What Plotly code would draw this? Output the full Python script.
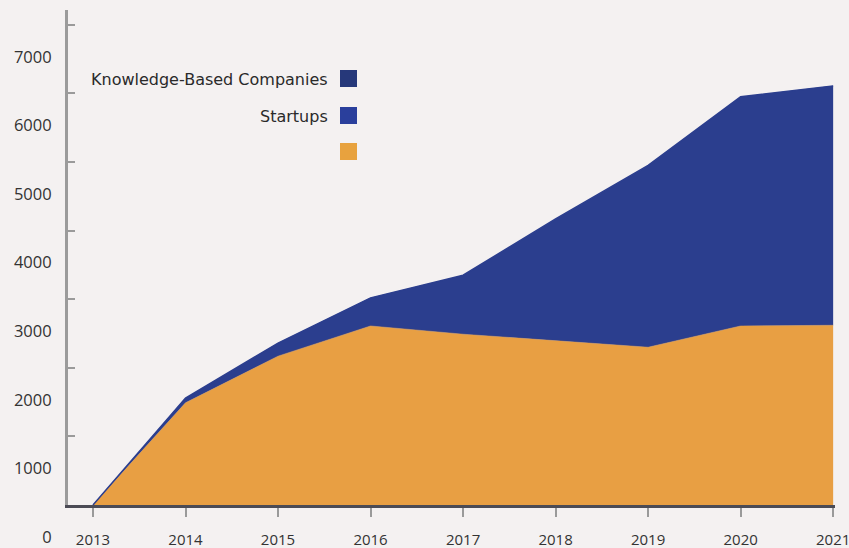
import plotly.graph_objects as go

years = [2013, 2014, 2015, 2016, 2017, 2018, 2019, 2020, 2021]
base_series = [0, 1490, 2170, 2610, 2490, 2400, 2300, 2610, 2620]
startups = [0, 70, 190, 410, 860, 1770, 2650, 3340, 3490]
y_ticks = [0, 1000, 2000, 3000, 4000, 5000, 6000, 7000]
legend_labels = ["Knowledge-Based Companies", "Startups", ""]
legend_colors = ["#26387A", "#2A3F9C", "#E8A23E"]

ORANGE = "#E89F43"
BLUE = "#2B3E8E"
BG = "#F4F1F1"
FONT = "Open Sans"
LEG_FONT = "DejaVu Sans"

fig = go.Figure()
fig.add_trace(go.Scatter(x=years, y=base_series, name="", stackgroup="one",
                         mode="lines", line=dict(color=ORANGE, width=0.5),
                         fillcolor=ORANGE, showlegend=False))
fig.add_trace(go.Scatter(x=years, y=startups, name="Startups", stackgroup="one",
                         mode="lines", line=dict(color=BLUE, width=1.5),
                         fillcolor=BLUE, showlegend=False))

# manual legend (text to the left of the swatch, as in the reference)
L, T, W, H = 68, 10, 767, 495
def px(x):
    return (x - L) / W
def py(y):
    return (T + H - y) / H

sq_tops = [70, 107, 143]
for lab, col, top in zip(legend_labels, legend_colors, sq_tops):
    fig.add_shape(type="rect", xref="paper", yref="paper",
                  x0=px(340), x1=px(357), y0=py(top + 17), y1=py(top),
                  fillcolor=col, line=dict(width=0), layer="above")
    if lab:
        fig.add_annotation(xref="paper", yref="paper", x=px(330), y=py(top + 9),
                           text=lab, showarrow=False, xanchor="right", yanchor="middle",
                           font=dict(family=LEG_FONT, size=16, color="#2a2a2a"))

fig.update_layout(
    width=849, height=548,
    margin=dict(l=L, r=849 - L - W, t=T, b=548 - T - H, autoexpand=False),
    paper_bgcolor=BG, plot_bgcolor=BG,
    font=dict(family=FONT, size=16, color="#333333"),
    showlegend=False,
)
fig.update_xaxes(range=[2012.73, 2021.02], tickvals=years, ticks="outside", ticklen=9,
                 tickwidth=2, tickcolor="#9a9a9a", showline=True, linewidth=2.5,
                 linecolor="#4b4b55", showgrid=False, zeroline=False, automargin=False,
                 tickfont=dict(family=FONT, size=15, color="#333333"),
                 ticklabelstandoff=10, ticklabeloverflow="allow")
fig.update_yaxes(range=[0, 7216], tickvals=y_ticks, ticks="inside", ticklen=7,
                 tickwidth=2, tickcolor="#9a9a9a", showline=True, linewidth=3,
                 linecolor="#9b9b9b", showgrid=False, zeroline=False, automargin=False,
                 ticklabelshift=32, ticklabelstandoff=10, ticklabeloverflow="allow",
                 tickfont=dict(family=FONT, size=16.5, color="#333333"))

fig.write_html(
    "out.html",
    config={"displayModeBar": False},
    post_script="document.body.style.margin='0';document.body.style.background='#F4F1F1';",
)
